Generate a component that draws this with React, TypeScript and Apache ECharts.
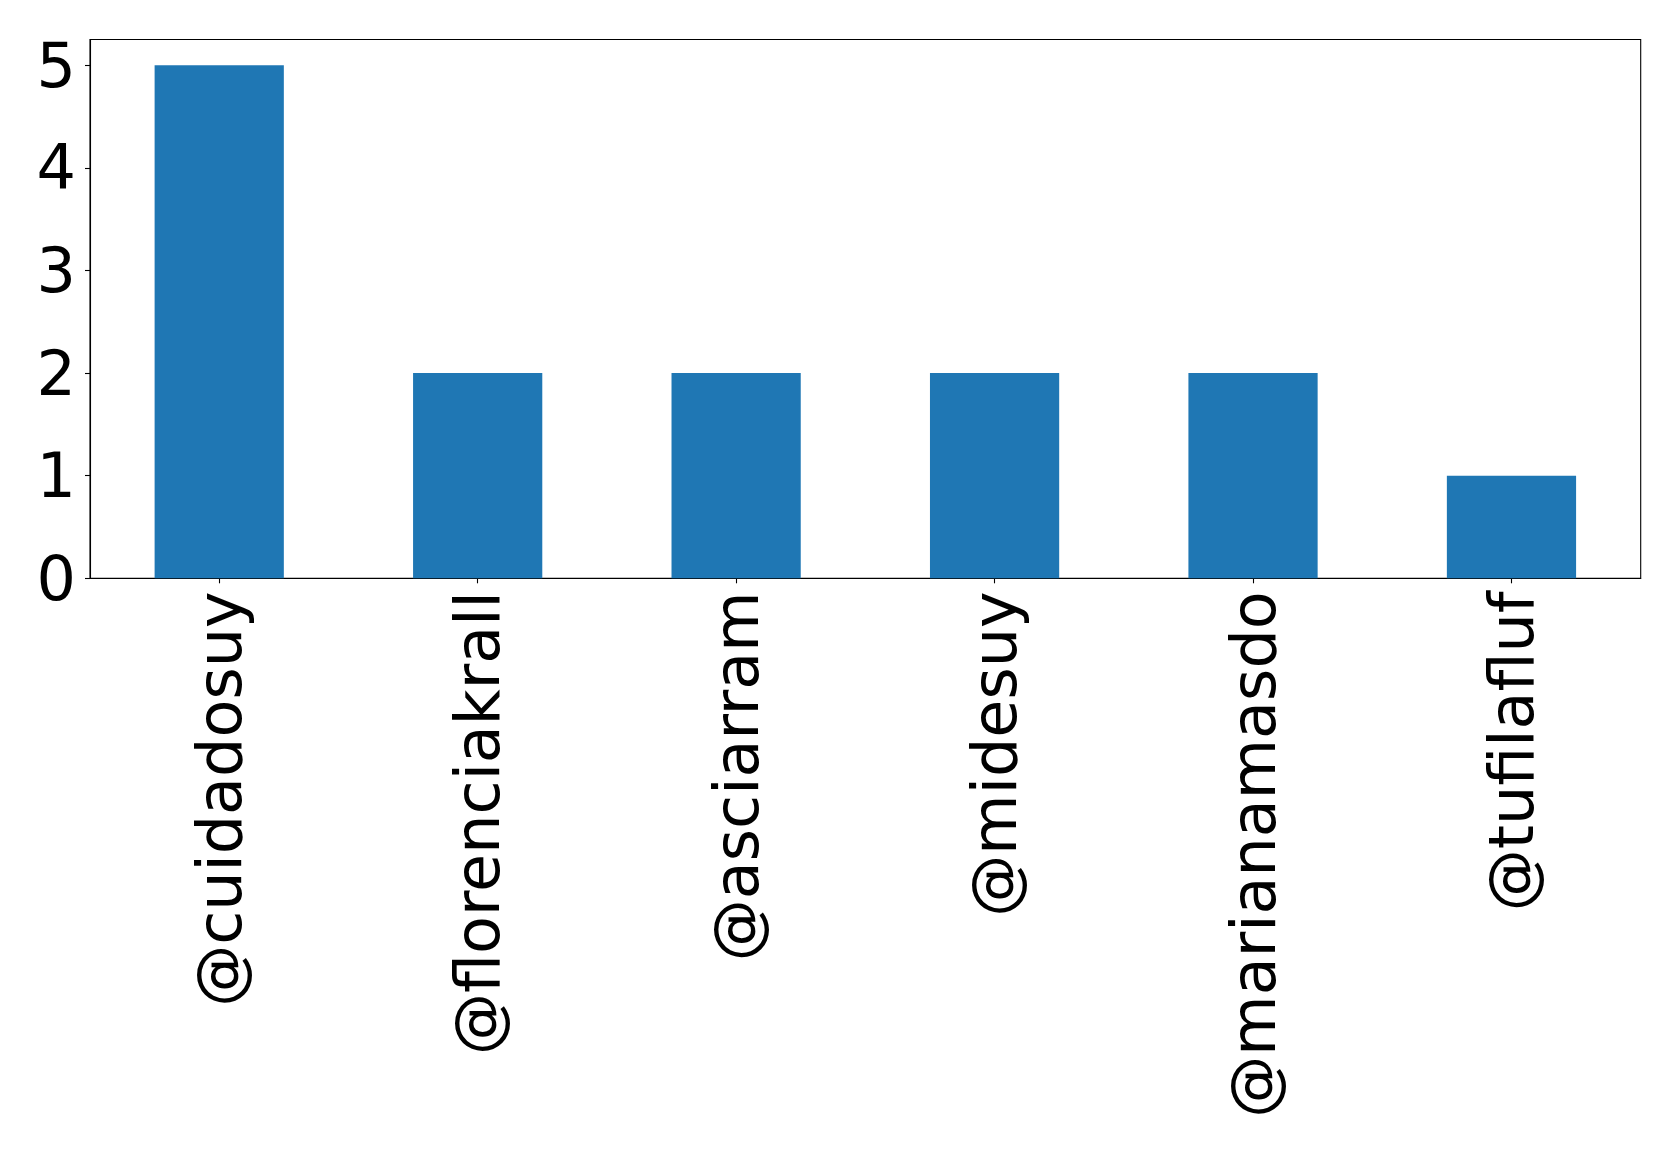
import React, { useEffect, useRef } from "react";
import * as echarts from "echarts";

const categories = ["@cuidadosuy", "@florenciakrall", "@asciarram", "@midesuy", "@marianamasdo", "@tufilafluf"];
const counts = [5, 2, 2, 2, 2, 1];
const yTicks = [0, 1, 2, 3, 4, 5];

export default function App() {
  const ref = useRef<HTMLDivElement>(null);
  useEffect(() => {
    if (!ref.current) return;
    const chart = echarts.init(ref.current, null, { renderer: "svg" });
    const font = "DejaVu Sans";
    chart.setOption({
      animation: false,
      backgroundColor: "#ffffff",
      grid: {
        left: 90,
        top: 39.5,
        right: 38.3,
        bottom: 579.7,
        show: true,
        borderColor: "#000000",
        borderWidth: 1.1,
        backgroundColor: "transparent",
      },
      xAxis: {
        type: "category",
        data: categories,
        boundaryGap: true,
        axisLine: { show: true, lineStyle: { color: "#000", width: 1.1 } },
        axisTick: { show: true, alignWithLabel: true, length: 5, lineStyle: { color: "#000", width: 1.1 } },
        axisLabel: {
          rotate: 90,
          interval: 0,
          margin: 13,
          fontFamily: font,
          fontSize: 62,
          color: "#000",
        },
        splitLine: { show: false },
      },
      yAxis: {
        type: "value",
        min: 0,
        max: 5.25,
        interval: 1,
        axisLine: { show: true, lineStyle: { color: "#000", width: 1.1 } },
        axisTick: { show: true, length: 5, customValues: yTicks, lineStyle: { color: "#000", width: 1.1 } },
        axisLabel: {
          margin: 14,
          fontFamily: font,
          fontSize: 62,
          color: "#000",
          customValues: yTicks,
        },
        splitLine: { show: false },
      },
      series: [
        {
          type: "bar",
          data: counts,
          barWidth: "50%",
          itemStyle: { color: "#1f77b4" },
        },
      ],
    });
    return () => chart.dispose();
  }, []);
  return (
    <div
      ref={ref}
      style={{ position: "fixed", left: 0, top: 0, width: 1679, height: 1158, background: "#fff" }}
    />
  );
}
